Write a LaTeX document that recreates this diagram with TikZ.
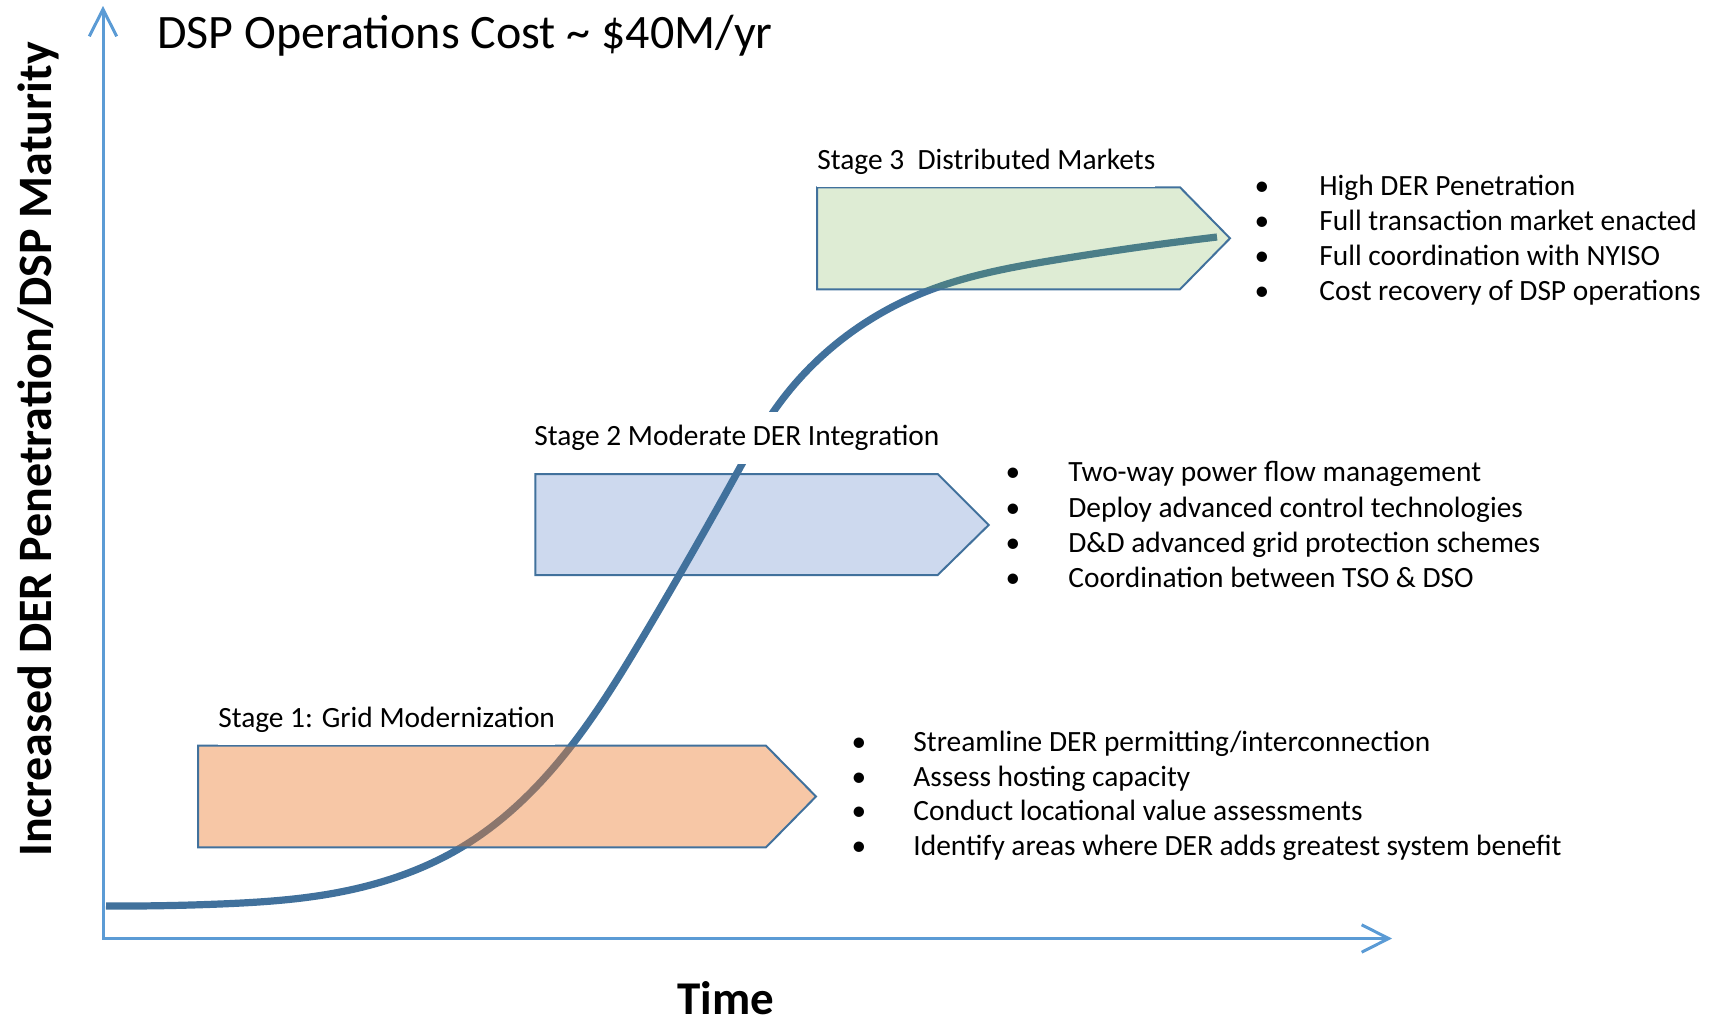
\documentclass[tikz,border=0pt]{standalone}
\usepackage{fontspec}
\setmainfont{Carlito}
\usetikzlibrary{arrows.meta,hobby}

\definecolor{axisblue}{HTML}{5B9BD5}
\definecolor{curveblue}{HTML}{41719C}
\definecolor{edgeblue}{HTML}{41719C}
\definecolor{stageorange}{HTML}{ED7D31}
\definecolor{stagegreen}{HTML}{70AD47}
\definecolor{stagelight}{HTML}{CDD9EE}

\newcommand\bodyfont{\fontsize{14.7pt}{17pt}\selectfont}

\tikzset{
  axis/.style={draw=axisblue, line width=1.5pt,
    {Straight Barb[length=13.5pt,width=13.7pt]}-{Straight Barb[length=13.5pt,width=13.7pt]}},
  maturity/.style={draw=curveblue, line width=3.6pt, line cap=butt},
  stagebox/.style={draw=edgeblue, line width=1pt, line join=miter},
  stagelabel/.style={anchor=base west, inner xsep=0pt, inner ysep=6.5pt,
    fill=white, font=\bodyfont},
  itemtext/.style={anchor=base west, inner sep=0pt, font=\bodyfont},
  itemdot/.style={anchor=base, inner sep=0pt, font=\bodyfont},
}

\begin{document}
\begin{tikzpicture}[x=0.5pt, y=-0.5pt]
  \useasboundingbox (0,0) rectangle (1719,1023);

  % axes
  \coordinate (ytop) at (103,6);
  \coordinate (origin) at (103,938.5);
  \coordinate (xend) at (1392,938.5);
  \draw[axis] (ytop) -- (origin) -- (xend);

  % axis titles
  \node[rotate=90, anchor=base, inner sep=0pt,
        font=\fontsize{24pt}{29pt}\selectfont\bfseries] (ylabel) at (51.5,449.5)
    {Increased DER Penetration/DSP Maturity};
  \node[anchor=base, inner sep=0pt,
        font=\fontsize{23.5pt}{28pt}\selectfont\bfseries] (xlabel) at (726,1014) {Time};

  % heading
  \node[anchor=base west, inner sep=0pt,
        font=\fontsize{24pt}{29pt}\selectfont] (title) at (157,48.3)
    {DSP Operations Cost \char`~{} \$40M/yr};

  % stage 2 arrow sits beneath the maturity curve
  \path[stagebox, fill=stagelight]
    (535.3,474) -- (937.7,474) -- (988.7,525) -- (937.7,575) -- (535.3,575) -- cycle;

  % maturity S-curve
  \draw[maturity, use Hobby shortcut]
    (106,906) .. (220,904) .. (335,893) .. (462,847) .. (572,745) .. (643,637)
    .. (737,473) .. (776,408) .. (841,340) .. (930,290) .. (1055,260) .. (1217,237);

  % stage 1 and stage 3 arrows lie over the curve, tinted
  \path[stagebox, fill=stageorange, fill opacity=0.43]
    (198.2,745.7) -- (766,745.7) -- (816,796.5) -- (766,847.3) -- (198.2,847.3) -- cycle;
  \path[stagebox, fill=stagegreen, fill opacity=0.23]
    (817,187.3) -- (1180,187.3) -- (1230,238.3) -- (1180,289.3) -- (817,289.3) -- cycle;

  % stage titles
  \node[stagelabel] (s1) at (217.9,727.3) {Stage 1: Grid Modernization};
  \node[stagelabel] (s2) at (534,445.7) {Stage 2 Moderate DER Integration};
  \node[stagelabel] (s3) at (817,169.3) {Stage 3\ \ Distributed Markets};

  % stage 3 items
  \foreach \y/\t [count=\i] in {195.2/{High DER Penetration},
      230.4/{Full transaction market enacted},
      265.6/{Full coordination with NYISO},
      300.8/{Cost recovery of DSP operations}} {
    \node[itemdot] (c\i) at (1262,\y) {•};
    \node[itemtext] (ct\i) at (1319,\y) {\t};
  }
  % stage 2 items
  \foreach \y/\t [count=\i] in {481.7/{Two-way power flow management},
      517/{Deploy advanced control technologies},
      552.3/{D\&D advanced grid protection schemes},
      587.6/{Coordination between TSO \& DSO}} {
    \node[itemdot] (b\i) at (1013,\y) {•};
    \node[itemtext] (bt\i) at (1068,\y) {\t};
  }
  % stage 1 items
  \foreach \y/\t [count=\i] in {751.6/{Streamline DER permitting/interconnection},
      786.2/{Assess hosting capacity},
      820.8/{Conduct locational value assessments},
      855.4/{Identify areas where DER adds greatest system benefit}} {
    \node[itemdot] (a\i) at (859,\y) {•};
    \node[itemtext] (at\i) at (913,\y) {\t};
  }
\end{tikzpicture}
\end{document}
